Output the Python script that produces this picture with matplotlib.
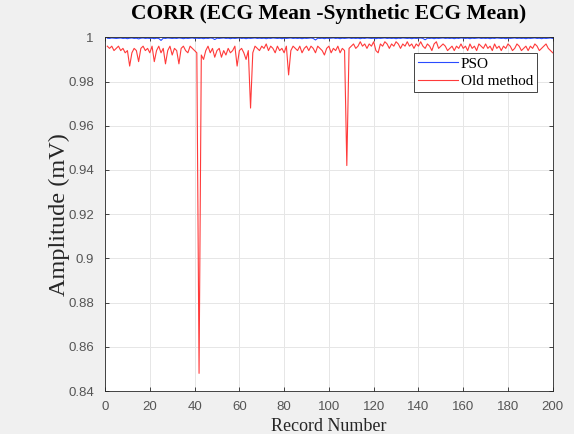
import matplotlib
matplotlib.use("Agg")
import matplotlib.pyplot as plt
import numpy as np

records = list(range(1, 201))

old_method = [
    0.996, 0.995, 0.996, 0.994, 0.995, 0.996, 0.994, 0.995, 0.993, 0.994,
    0.987, 0.993, 0.995, 0.994, 0.989, 0.995, 0.996, 0.994, 0.995, 0.993,
    0.996, 0.989, 0.994, 0.996, 0.993, 0.995, 0.988, 0.994, 0.996, 0.992,
    0.995, 0.994, 0.988, 0.995, 0.996, 0.994, 0.993, 0.996, 0.995, 0.994,
    0.993, 0.848, 0.992, 0.990, 0.994, 0.996, 0.993, 0.995, 0.991, 0.994,
    0.995, 0.991, 0.994, 0.992, 0.995, 0.993, 0.994, 0.996, 0.987, 0.994,
    0.995, 0.993, 0.990, 0.994, 0.968, 0.993, 0.996, 0.995, 0.994, 0.996,
    0.995, 0.997, 0.994, 0.996, 0.995, 0.993, 0.996, 0.994, 0.995, 0.993,
    0.996, 0.983, 0.994, 0.996, 0.995, 0.994, 0.996, 0.993, 0.995, 0.996,
    0.994, 0.996, 0.995, 0.993, 0.996, 0.995, 0.994, 0.992, 0.995, 0.996,
    0.993, 0.995, 0.994, 0.996, 0.993, 0.995, 0.994, 0.942, 0.995, 0.996,
    0.997, 0.995, 0.996, 0.998, 0.996, 0.997, 0.995, 0.997, 0.996, 0.998,
    0.994, 0.993, 0.997, 0.996, 0.998, 0.997, 0.995, 0.997, 0.996, 0.998,
    0.997, 0.995, 0.997, 0.996, 0.998, 0.996, 0.997, 0.995, 0.997, 0.996,
    0.998, 0.996, 0.995, 0.997, 0.996, 0.994, 0.997, 0.998, 0.995, 0.996,
    0.997, 0.996, 0.994, 0.995, 0.996, 0.994, 0.996, 0.995, 0.997, 0.995,
    0.996, 0.994, 0.997, 0.995, 0.996, 0.994, 0.997, 0.996, 0.995, 0.997,
    0.995, 0.996, 0.994, 0.997, 0.995, 0.996, 0.994, 0.996, 0.995, 0.997,
    0.996, 0.994, 0.995, 0.997, 0.996, 0.994, 0.995, 0.996, 0.994, 0.996,
    0.995, 0.997, 0.996, 0.994, 0.995, 0.996, 0.997, 0.995, 0.994, 0.993,
]

pso = [
    0.9996, 0.9995, 0.9997, 0.9996, 0.9995, 0.9996, 0.9997, 0.9995, 0.9996, 0.9994,
    0.9996, 0.9997, 0.9995, 0.9996, 0.9993, 0.9996, 0.9997, 0.9995, 0.9996, 0.9995,
    0.9996, 0.9994, 0.9996, 0.9995, 0.9986, 0.9996, 0.9995, 0.9997, 0.9996, 0.9995,
    0.9996, 0.9995, 0.9997, 0.9996, 0.9994, 0.9996, 0.9995, 0.9996, 0.9997, 0.9995,
    0.9996, 0.9995, 0.9996, 0.9994, 0.9996, 0.9995, 0.9997, 0.9996, 0.9990, 0.9996,
    0.9995, 0.9996, 0.9997, 0.9995, 0.9996, 0.9994, 0.9996, 0.9995, 0.9996, 0.9997,
    0.9995, 0.9996, 0.9994, 0.9996, 0.9995, 0.9996, 0.9997, 0.9995, 0.9996, 0.9995,
    0.9996, 0.9994, 0.9996, 0.9995, 0.9997, 0.9996, 0.9995, 0.9996, 0.9994, 0.9996,
    0.9995, 0.9996, 0.9997, 0.9995, 0.9996, 0.9995, 0.9996, 0.9994, 0.9996, 0.9995,
    0.9996, 0.9997, 0.9995, 0.9988, 0.9996, 0.9995, 0.9996, 0.9994, 0.9996, 0.9995,
    0.9996, 0.9997, 0.9995, 0.9996, 0.9994, 0.9996, 0.9995, 0.9996, 0.9997, 0.9995,
    0.9996, 0.9995, 0.9996, 0.9994, 0.9996, 0.9995, 0.9997, 0.9996, 0.9995, 0.9996,
    0.9994, 0.9996, 0.9995, 0.9996, 0.9997, 0.9995, 0.9996, 0.9995, 0.9996, 0.9994,
    0.9996, 0.9995, 0.9997, 0.9996, 0.9995, 0.9996, 0.9994, 0.9996, 0.9995, 0.9996,
    0.9997, 0.9995, 0.9989, 0.9996, 0.9995, 0.9996, 0.9994, 0.9996, 0.9995, 0.9996,
    0.9997, 0.9995, 0.9996, 0.9995, 0.9996, 0.9994, 0.9996, 0.9995, 0.9997, 0.9996,
    0.9995, 0.9996, 0.9994, 0.9996, 0.9995, 0.9996, 0.9997, 0.9995, 0.9996, 0.9995,
    0.9996, 0.9994, 0.9996, 0.9995, 0.9997, 0.9996, 0.9995, 0.9996, 0.9994, 0.9996,
    0.9995, 0.9996, 0.9997, 0.9995, 0.9996, 0.9995, 0.9996, 0.9994, 0.9996, 0.9995,
    0.9996, 0.9997, 0.9995, 0.9996, 0.9994, 0.9996, 0.9995, 0.9996, 0.9997, 0.9995,
]

x_ticks = [0, 20, 40, 60, 80, 100, 120, 140, 160, 180, 200]
y_ticks = [0.84, 0.86, 0.88, 0.9, 0.92, 0.94, 0.96, 0.98, 1.0]
y_tick_labels = ["0.84", "0.86", "0.88", "0.9", "0.92", "0.94", "0.96", "0.98", "1"]

fig = plt.figure(figsize=(5.74, 4.34), dpi=100, facecolor="#f0f0f0")
ax = fig.add_axes([0.183, 0.099, 0.780, 0.815])
ax.set_facecolor("white")

ax.plot(records, pso, color="#2a4bff", lw=0.8, label="PSO")
ax.plot(records, old_method, color="#ff3a3a", lw=0.8, label="Old method")

ax.set_xlim(0, 200)
ax.set_ylim(0.84, 1.0)
ax.set_xticks(x_ticks)
ax.set_yticks(y_ticks)
ax.set_yticklabels(y_tick_labels)
ax.grid(True, color="#e6e6e6", lw=0.7)
ax.set_axisbelow(True)

for s in ax.spines.values():
    s.set_color("#262626")
    s.set_linewidth(0.6)
ax.tick_params(direction="in", length=3, width=0.6, colors="#262626",
               labelcolor="#555555", labelsize=9.5, top=True, right=True)
ax.tick_params(axis="y", pad=8)
ax.tick_params(axis="x", pad=7)
for lbl in ax.get_xticklabels() + ax.get_yticklabels():
    lbl.set_fontfamily("Liberation Sans")

serif = "Liberation Serif"
ax.set_title("CORR (ECG Mean -Synthetic ECG Mean)", fontfamily=serif,
             fontweight="bold", fontsize=15.5, pad=13)
ax.set_xlabel("Record Number", fontfamily=serif, fontsize=13, labelpad=4, color="#262626")
ax.set_ylabel("Amplitude (mV)", fontfamily=serif, fontsize=17.5, labelpad=-1, color="#262626")

leg = ax.legend(loc="upper right", bbox_to_anchor=(0.964, 0.955),
                prop={"family": serif, "size": 11}, frameon=True, fancybox=False,
                borderpad=0.25, handlelength=2.6, labelspacing=0.25, handletextpad=0.2,
                borderaxespad=0.0, framealpha=1)
leg.get_frame().set_edgecolor("#262626")
leg.get_frame().set_linewidth(0.6)

fig.savefig("out.png", dpi=100, facecolor=fig.get_facecolor())
